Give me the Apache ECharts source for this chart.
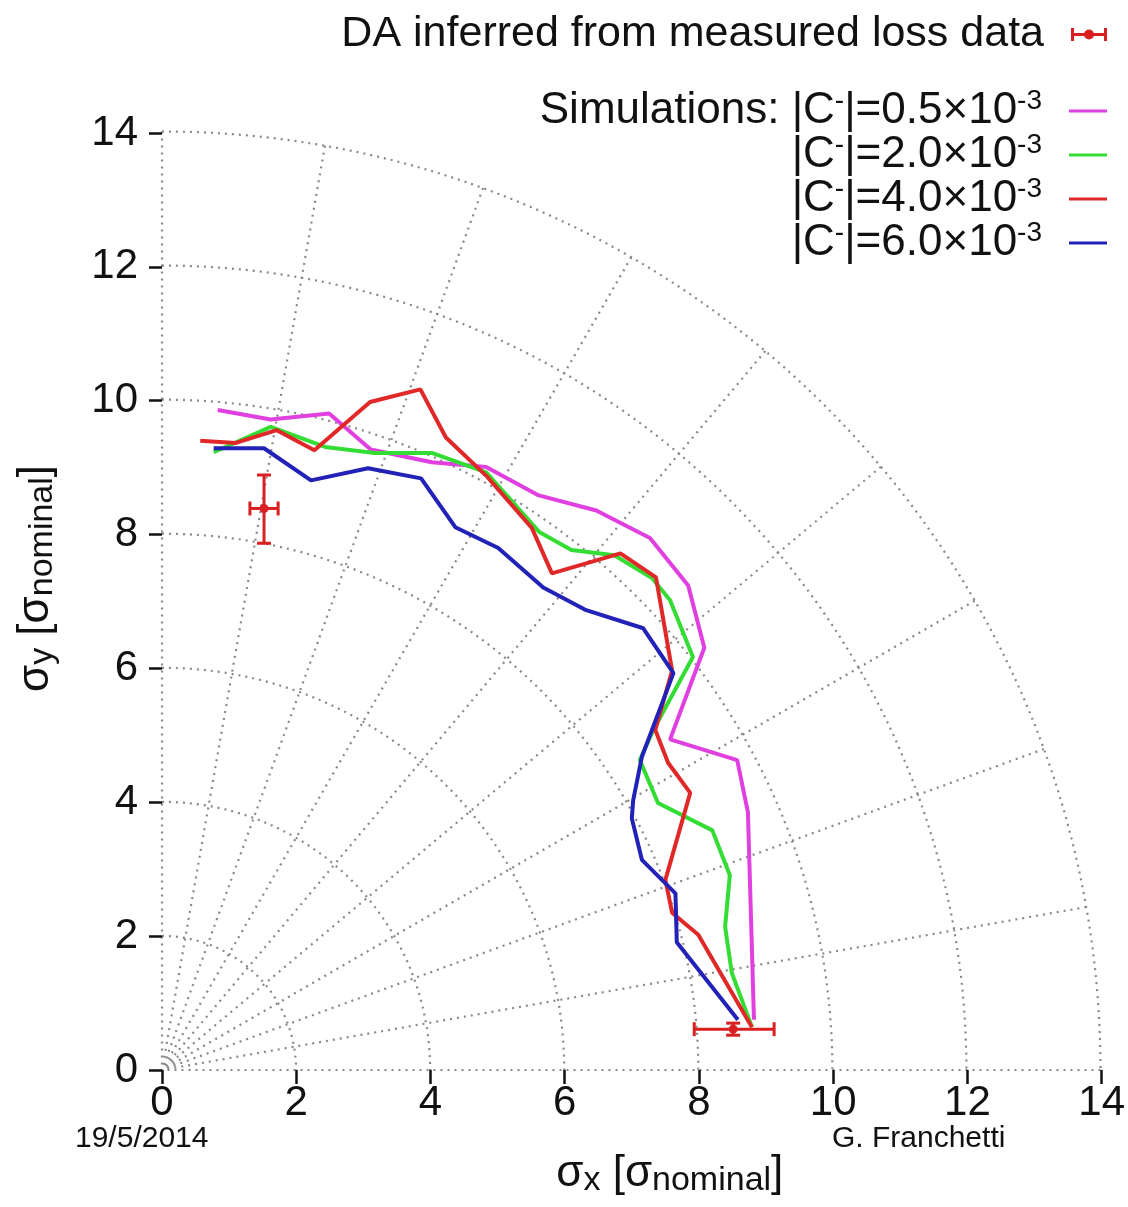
<!DOCTYPE html>
<html><head><meta charset="utf-8">
<script src="https://cdn.jsdelivr.net/npm/echarts@6/dist/echarts.min.js"></script>
<style>html,body{margin:0;padding:0;background:#fff}#c{width:1128px;height:1207px}</style>
</head><body><div id="c"></div>
<script>
// ---- data ----
const axisTicks = [0, 2, 4, 6, 8, 10, 12, 14];
const polarRadii = [0, 14, 2];      // min, max, step of the dotted arcs
const polarAngles = [0, 90, 10];    // min, max, step of the dotted rays (degrees)

const nameMeasured = 'DA inferred from measured loss data';
const names = ['|C⁻|=0.5×10⁻³', '|C⁻|=2.0×10⁻³', '|C⁻|=4.0×10⁻³', '|C⁻|=6.0×10⁻³'];
const labelValues = ['0.5', '2.0', '4.0', '6.0'];
const colors = ['#e040e0', '#33dd33', '#e02828', '#2222b8'];

// measured DA: [x, y, xLow, xHigh, yLow, yHigh]
const measured = [
  [1.52, 8.39, 1.31, 1.73, 7.87, 8.89],
  [8.51, 0.61, 7.93, 9.12, 0.52, 0.70]
];

// simulations: [sigma_x, sigma_y]
const c05 = [[0.83,9.86],[1.62,9.72],[2.49,9.81],[3.11,9.27],[4.02,9.08],[4.83,9.01],[5.60,8.59],[6.47,8.36],[7.27,7.95],[7.84,7.24],[8.08,6.31],[7.57,4.94],[8.57,4.63],[8.73,3.85],[8.82,0.75]];
const c20 = [[0.77,9.23],[1.62,9.61],[2.43,9.31],[3.17,9.22],[4.02,9.22],[4.83,8.93],[5.62,8.04],[6.10,7.77],[6.74,7.69],[7.30,7.35],[7.57,7.02],[7.91,6.17],[7.32,5.08],[7.12,4.63],[7.39,3.99],[8.20,3.58],[8.46,2.91],[8.39,2.14],[8.49,1.45],[8.79,0.64]];
const c40 = [[0.57,9.40],[1.10,9.37],[1.71,9.56],[2.27,9.26],[3.10,9.98],[3.85,10.17],[4.23,9.45],[4.84,8.87],[5.51,8.10],[5.81,7.42],[6.83,7.72],[7.36,7.36],[7.60,5.97],[7.35,5.08],[7.54,4.59],[7.87,4.14],[7.50,2.84],[7.60,2.35],[7.99,2.02],[8.79,0.64]];
const c60 = [[0.77,9.29],[1.52,9.29],[2.22,8.81],[3.07,8.99],[3.86,8.84],[4.37,8.11],[5.01,7.80],[5.68,7.21],[6.32,6.87],[7.17,6.60],[7.62,5.93],[7.15,4.68],[7.02,4.03],[7.00,3.76],[7.15,3.14],[7.65,2.64],[7.67,1.91],[8.58,0.75]];
const simData = [c05, c20, c40, c60];

// ---- chart ----
const FONT = "'Liberation Sans', Arial, Helvetica, sans-serif";
const TXT = '#111';
const chart = echarts.init(document.getElementById('c'), null, {renderer: 'canvas'});

const dotted = {color: '#888', width: 2.2, type: [2, 5]};
const richBase = {
  n: {fontSize: 44, fontFamily: FONT, color: TXT, lineHeight: 48},
  sup: {fontSize: 28, fontFamily: FONT, color: TXT, lineHeight: 26, verticalAlign: 'top'},
  sub: {fontSize: 34, fontFamily: FONT, color: TXT, lineHeight: 34, verticalAlign: 'bottom'}
};
function cLabel(v) { return '{n||C}{sup|-}{n||=' + v + '×10}{sup|-3}'; }

const xAxisCommon = {
  type: 'value', min: axisTicks[0], max: axisTicks[axisTicks.length - 1],
  interval: axisTicks[1] - axisTicks[0],
  axisLine: {show: false},
  axisTick: {show: true, inside: false, length: 14, lineStyle: {color: '#111', width: 2.5}},
  splitLine: {show: false},
  axisLabel: {fontSize: 42, fontFamily: FONT, color: TXT, margin: 12}
};

const legends = [];
legends.push({
  data: [{name: nameMeasured, icon: 'path://M0,5h36v3H0z M0,0h3v13H0z M33,0h3v13h-3z M13,6.5a5,5 0 1,1 10,0a5,5 0 1,1 -10,0z'}],
  right: 16, top: 8, align: 'right', itemWidth: 36, itemHeight: 13,
  textStyle: {fontSize: 43, fontFamily: FONT, color: TXT, padding: [0, 22, 0, 0]}
});
const legendTops = [82, 126, 170, 214];
names.forEach((nm, i) => {
  legends.push({
    data: [{name: nm, icon: 'rect'}],
    right: 16, top: legendTops[i], align: 'right', itemWidth: 38, itemHeight: 3,
    formatter: () => (i === 0 ? '{n|Simulations: }' : '') + cLabel(labelValues[i]),
    textStyle: {fontSize: 44, fontFamily: FONT, color: TXT, padding: [0, 22, 0, 0], rich: richBase}
  });
});

const series = simData.map((d, i) => ({
  name: names[i], type: 'line', data: d, symbol: 'none', color: colors[i],
  lineStyle: {width: 4, color: colors[i]}, z: 3 + i, animation: false
}));
series.push({
  name: nameMeasured, type: 'custom', data: measured, z: 10,
  itemStyle: {color: '#d82020'},
  encode: {x: 0, y: 1},
  renderItem: function (params, api) {
    const x = api.value(0), y = api.value(1);
    const c = api.coord([x, y]);
    const l = api.coord([api.value(2), y]), r = api.coord([api.value(3), y]);
    const b = api.coord([x, api.value(4)]), t = api.coord([x, api.value(5)]);
    const cap = 7, st = {stroke: '#d82020', lineWidth: 3};
    return {type: 'group', children: [
      {type: 'line', shape: {x1: l[0], y1: c[1], x2: r[0], y2: c[1]}, style: st},
      {type: 'line', shape: {x1: l[0], y1: c[1] - cap, x2: l[0], y2: c[1] + cap}, style: st},
      {type: 'line', shape: {x1: r[0], y1: c[1] - cap, x2: r[0], y2: c[1] + cap}, style: st},
      {type: 'line', shape: {x1: c[0], y1: b[1], x2: c[0], y2: t[1]}, style: st},
      {type: 'line', shape: {x1: c[0] - cap, y1: b[1], x2: c[0] + cap, y2: b[1]}, style: st},
      {type: 'line', shape: {x1: c[0] - cap, y1: t[1], x2: c[0] + cap, y2: t[1]}, style: st},
      {type: 'circle', shape: {cx: c[0], cy: c[1], r: 4.5}, style: {fill: '#d82020'}}
    ]};
  }
});

chart.setOption({
  animation: false,
  backgroundColor: '#fff',
  grid: {left: 162, right: 26, top: 133, bottom: 137},
  polar: {center: [162, 1070], radius: 938.5},
  angleAxis: {
    type: 'value', min: polarAngles[0], max: polarAngles[1], interval: polarAngles[2],
    startAngle: 90, endAngle: 0, clockwise: true,
    axisLine: {show: false}, axisTick: {show: false}, axisLabel: {show: false},
    splitLine: {show: true, lineStyle: dotted}
  },
  radiusAxis: {
    type: 'value', min: polarRadii[0], max: polarRadii[1], interval: polarRadii[2],
    axisLine: {show: false}, axisTick: {show: false}, axisLabel: {show: false},
    splitLine: {show: true, lineStyle: dotted}
  },
  xAxis: Object.assign({}, xAxisCommon, {
    name: '{n|σ}{sub|x}{n| [σ}{sub|nominal}{n|]}',
    nameLocation: 'middle', nameGap: 80,
    nameTextStyle: {rich: richBase, padding: [0, 0, 0, 76]}
  }),
  yAxis: Object.assign({}, xAxisCommon, {
    axisLabel: {fontSize: 42, fontFamily: FONT, color: TXT, margin: 24},
    axisTick: {show: true, inside: false, length: 13, lineStyle: {color: '#111', width: 2.5}},
    name: '{n|σ}{sub|y}{n| [σ}{sub|nominal}{n|]}',
    nameLocation: 'middle', nameGap: 102, nameRotate: 90,
    nameTextStyle: {rich: richBase, padding: [0, 0, 0, 46]}
  }),
  legend: legends,
  graphic: [
    {type: 'text', left: 75, top: 1124, style: {text: '19/5/2014', fontSize: 30, fontFamily: "'Liberation Sans Narrow', 'Liberation Sans', sans-serif", fill: '#111'}},
    {type: 'text', left: 832, top: 1124, style: {text: 'G. Franchetti', fontSize: 30, fontFamily: "'Liberation Sans Narrow', 'Liberation Sans', sans-serif", fill: '#111'}}
  ],
  series: series
});
</script></body></html>
